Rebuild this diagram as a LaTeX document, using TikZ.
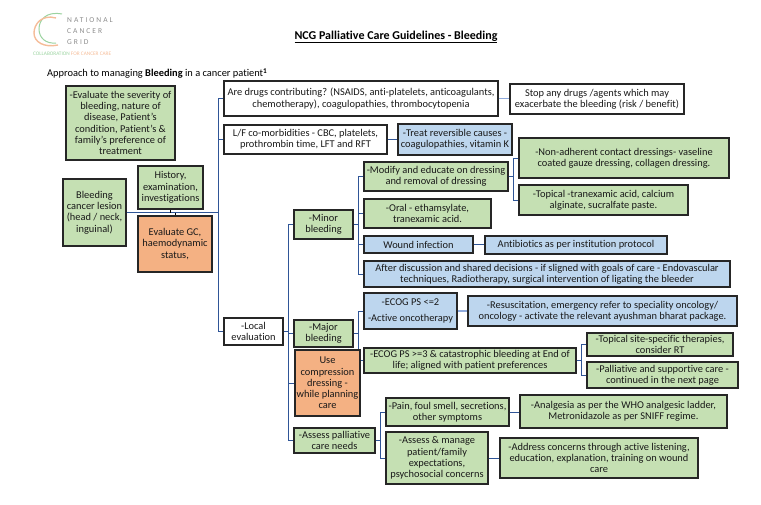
\documentclass[tikz,border=0pt]{standalone}
\usepackage{fontspec}
\setmainfont[Ligatures={NoCommon,TeX}]{Carlito}
\newfontfamily\logofont[LetterSpace=27]{Carlito}
\usetikzlibrary{calc}
\definecolor{gbox}{HTML}{C5E0B3}
\definecolor{bbox}{HTML}{BDD6EE}
\definecolor{obox}{HTML}{F4B183}
\definecolor{cdark}{HTML}{2F5597}
\definecolor{clight}{HTML}{8FAADC}
\definecolor{logog}{HTML}{9BD3A0}
\definecolor{logoo}{HTML}{F5BC98}
\definecolor{logot}{HTML}{8C8C8C}
\tikzset{
  base/.style={draw=black!85,line width=1.35pt,inner sep=0pt,align=center,font=\fontsize{10.4}{11.3}\selectfont,text=black!90},
  gb/.style={base,fill=gbox},
  bb/.style={base,fill=bbox},
  ob/.style={base,fill=obox},
  wb/.style={base,fill=white},
  conn/.style={draw=cdark,line width=0.8pt},
  connl/.style={draw=clight,line width=1.3pt},
  logotxt/.style={anchor=west,inner sep=0pt,text=logot,font=\logofont\fontsize{7.5}{9}\selectfont},
}
\newcommand{\bx}[7]{%
  \pgfmathsetmacro{\bxcx}{(#3+#5)/2}%
  \pgfmathsetmacro{\bxcy}{(#4+#6)/2}%
  \pgfmathsetmacro{\bxw}{#5-#3}%
  \pgfmathsetmacro{\bxh}{#6-#4}%
  \node[#1,minimum width=\bxw pt,minimum height=\bxh pt] (#2) at (\bxcx,\bxcy) {#7};%
}
\begin{document}
\begin{tikzpicture}[x=1pt,y=-1pt]
\useasboundingbox (0,0) rectangle (761,504);
% logo
\draw[line width=1pt,color=logog]
  (62,14) .. controls (46,11) and (39,20) .. (39,29) .. controls (39,38) and (46,44) .. (56,43);
\draw[line width=1.4pt,color=logoo]
  (56,18) .. controls (42,14) and (34,24) .. (34,33) .. controls (34,42) and (44,48) .. (58,45);
\node[logotxt] (logoa) at (67,20.5) {NATIONAL};
\node[logotxt] (logob) at (67,31.5) {CANCER};
\node[logotxt] (logoc) at (67,42.5) {GRID};
\node[anchor=west,inner sep=0pt,font=\fontsize{5.3}{6}\selectfont] (logod) at (33,54) {\textcolor{logog}{COLLABORATION} \textcolor{logoo}{FOR CANCER CARE}};
% titles
\node[inner sep=0pt,font=\bfseries\fontsize{12}{14}\selectfont,anchor=center] (title) at (396,37) {\underline{NCG Palliative Care Guidelines - Bleeding}};
\node[inner sep=0pt,anchor=west,font=\fontsize{10.4}{13}\selectfont] (sub) at (47,73.5) {Approach to managing \textbf{Bleeding} in a cancer patient\textsuperscript{\textbf{1}}};
% boxes
\bx{gb}{sev}{66}{86}{175}{160}{-Evaluate the severity of\\bleeding, nature of\\disease, Patient's\\condition, Patient's \&\\family's preference of\\treatment}
\bx{gb}{lesion}{63}{179}{126}{246}{Bleeding\\cancer lesion\\(head / neck,\\inguinal)}
\bx{gb}{hist}{138}{166}{203}{209}{History,\\examination,\\investigations}
\bx{ob}{gc}{138}{216}{212}{272}{Evaluate GC,\\haemodynamic\\status,}
\bx{wb}{drugs}{224}{81}{498}{116}{Are drugs contributing? (NSAIDS, anti-platelets, anticoagulants,\\chemotherapy), coagulopathies, thrombocytopenia}
\bx{wb}{lf}{224}{125}{387}{154}{L/F co-morbidities - CBC, platelets,\\prothrombin time, LFT and RFT}
\bx{wb}{stopd}{510}{84}{684}{114}{Stop any drugs /agents which may\\exacerbate the bleeding (risk / benefit)}
\bx{bb}{treat}{398}{124}{512}{155}{-Treat reversible causes -\\coagulopathies, vitamin K}
\bx{gb}{modify}{364}{162}{508}{191}{-Modify and educate on dressing\\and removal of dressing}
\bx{gb}{nonadh}{519}{138}{729}{178}{-Non-adherent contact dressings- vaseline\\coated gauze dressing, collagen dressing.}
\bx{gb}{toptr}{519}{185}{688}{215}{-Topical -tranexamic acid, calcium\\alginate, sucralfate paste.}
\bx{gb}{oral}{364}{199}{491}{228}{-Oral - ethamsylate,\\tranexamic acid.}
\bx{bb}{wound}{364}{236}{473}{253}{Wound infection}
\bx{bb}{antib}{485}{236}{667}{254}{Antibiotics as per institution protocol}
\bx{bb}{after}{364}{261}{730}{287}{After discussion and shared decisions - if sligned with goals of care - Endovascular\\techniques, Radiotherapy, surgical intervention of ligating the bleeder}
\bx{gb}{minor}{294}{210}{353}{239}{-Minor\\bleeding}
\bx{bb}{ecoga}{364}{293}{457}{329}{-ECOG PS <=2\\[4pt]-Active oncotherapy}
\bx{bb}{resus}{468}{296}{737}{326}{-Resuscitation, emergency refer to speciality oncology/\\oncology - activate the relevant ayushman bharat package.}
\bx{gb}{major}{294}{320}{353}{347}{-Major\\bleeding}
\bx{wb}{local}{224}{318}{283}{345}{-Local\\evaluation}
\bx{gb}{ecogb}{364}{348}{576}{373}{-ECOG PS >=3 \& catastrophic bleeding at End of\\life; aligned with patient preferences}
\bx{gb}{topsite}{587}{333}{733}{356}{-Topical site-specific therapies,\\consider RT}
\bx{gb}{pallc}{587}{362}{738}{388}{-Palliative and supportive care -\\continued in the next page}
\bx{gb}{pain}{386}{398}{509}{426}{-Pain, foul smell, secretions,\\other symptoms}
\bx{gb}{analg}{520}{395}{727}{428}{-Analgesia as per the WHO analgesic ladder,\\Metronidazole as per SNIFF regime.}
\bx{gb}{assm}{386}{432}{488}{484}{-Assess \& manage\\patient/family\\expectations,\\psychosocial concerns}
\bx{gb}{addr}{500}{438}{698}{478}{-Address concerns through active listening,\\education, explanation, training on wound\\care}
\bx{gb}{assp}{294}{428}{375}{453}{-Assess palliative\\care needs}
% routing coordinates
\coordinate (ta) at (218,0);
\coordinate (tb) at (288,0);
\coordinate (tc) at (358,0);
\coordinate (td) at (513,0);
\coordinate (te) at (581,0);
\coordinate (tf) at (380,0);
\draw[conn] (lesion.east) -| (ta |- drugs) -- (drugs.west);
\draw[conn] (lesion.east) -| (ta |- local) -- (local.west);
\draw[conn] (ta |- lf) -- (lf.west);
\draw[conn,draw=black] (hist.south) -- (hist.south |- lesion);
\draw[conn,draw=black] (gc.north) -- (gc.north |- lesion);
\draw[connl] (drugs.east) -- (stopd.west |- drugs);
\draw[conn] (lf.east) -- (treat.west |- lf);
\draw[conn] (local.east) -| (tb |- minor) -- (minor.west);
\draw[conn] (local.east) -| (tb |- assp) -- (assp.west);
\draw[conn] (tb |- major) -- (major.west);
\coordinate (cpl) at (295,383);
\draw[conn] (tb |- cpl) -- (cpl);
\draw[conn] (minor.east) -| (tc |- modify) -- (modify.west);
\draw[conn] (minor.east) -| (tc |- after) -- (after.west);
\draw[conn] (tc |- oral) -- (oral.west);
\draw[conn] (tc |- wound) -- (wound.west);
\draw[conn] (wound.east) -- (antib.west |- wound);
\draw[conn] (modify.east) -| (td |- nonadh) -- (nonadh.west);
\draw[conn] (modify.east) -| (td |- toptr) -- (toptr.west);
\draw[conn] (major.east) -| (tc |- ecoga) -- (ecoga.west);
\draw[conn] (major.east) -| (tc |- ecogb) -- (ecogb.west);
\draw[connl] (ecoga.east) -- (resus.west |- ecoga);
\draw[conn] (ecogb.east) -| (te |- topsite) -- (topsite.west);
\draw[conn] (ecogb.east) -| (te |- pallc) -- (pallc.west);
\draw[conn] (assp.east) -| (tf |- pain) -- (pain.west);
\draw[conn] (assp.east) -| (tf |- assm) -- (assm.west);
\draw[conn] (pain.east) -- (analg.west |- pain);
\draw[conn] (assm.east) -- (addr.west |- assm);
\bx{ob}{comp}{295}{350}{360}{416}{Use\\compression\\dressing -\\while planning\\care}
\end{tikzpicture}
\end{document}
